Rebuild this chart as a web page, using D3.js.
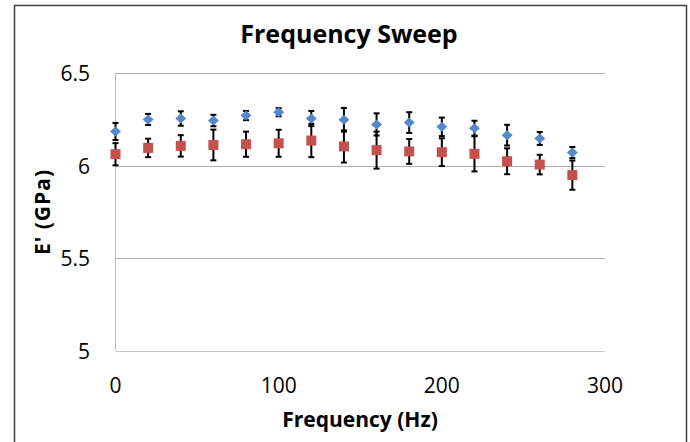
<!DOCTYPE html>
<html>
<head>
<meta charset="utf-8">
<script src="https://cdn.jsdelivr.net/npm/d3@7"></script>
<style>
  body { margin: 0; background: #fff; }
  text { font-family: "Open Sans", sans-serif; fill: #000; }
</style>
</head>
<body>
<div id="chart"></div>
<script>
// frequency sweep data
const freq = [0, 20, 40, 60, 80, 100, 120, 140, 160, 180, 200, 220, 240, 260, 280];
const blueE = [6.184, 6.249, 6.254, 6.243, 6.270, 6.288, 6.254, 6.247, 6.222, 6.232, 6.209, 6.202, 6.164, 6.146, 6.070];
const blueErr = [0.046, 0.030, 0.039, 0.031, 0.025, 0.022, 0.041, 0.064, 0.060, 0.056, 0.050, 0.040, 0.056, 0.035, 0.030];
const redE = [6.061, 6.095, 6.106, 6.111, 6.115, 6.120, 6.135, 6.103, 6.083, 6.076, 6.072, 6.063, 6.023, 6.005, 5.948];
const redErr = [0.060, 0.050, 0.058, 0.083, 0.068, 0.073, 0.090, 0.087, 0.100, 0.067, 0.075, 0.095, 0.070, 0.053, 0.079];
const xTicks = [0, 100, 200, 300];
const yTicks = [5, 5.5, 6, 6.5];

const width = 690;
const height = 442;
const blue = "#5589cc";
const red = "#c4514e";

const svg = d3.select("#chart")
  .append("svg")
  .attr("width", width)
  .attr("height", height);

// outer chart frame
svg.append("rect")
  .attr("x", 14.5).attr("y", 5.5)
  .attr("width", 672).attr("height", 460)
  .attr("fill", "#fff")
  .attr("stroke", "#404040")
  .attr("stroke-width", 1.5);

let xScale = d3.scaleLinear().domain([0, 300]).range([115.5, 605]);
let yScale = d3.scaleLinear().domain([5, 6.5]).range([350.5, 73]);

// gridlines
svg.append("g")
  .selectAll("line")
  .data(yTicks)
  .join("line")
    .attr("x1", xScale(0))
    .attr("x2", xScale(300))
    .attr("y1", d => Math.round(yScale(d)) + 0.5)
    .attr("y2", d => Math.round(yScale(d)) + 0.5)
    .attr("stroke", d => d == 5 ? "#c8c8c8" : "#b0b0b0")
    .attr("stroke-width", 1);

// left axis line
svg.append("line")
  .attr("x1", xScale(0)).attr("x2", xScale(0))
  .attr("y1", yScale(6.5)).attr("y2", yScale(5))
  .attr("stroke", "#b8b8b8");

// tick labels
svg.append("g")
  .selectAll("text")
  .data(yTicks)
  .join("text")
    .attr("x", 90)
    .attr("y", d => yScale(d) + 8)
    .attr("text-anchor", "end")
    .attr("font-size", 21)
    .text(d => d);

svg.append("g")
  .selectAll("text")
  .data(xTicks)
  .join("text")
    .attr("x", d => xScale(d))
    .attr("y", 393)
    .attr("text-anchor", "middle")
    .attr("font-size", 21)
    .text(d => d);

// titles
svg.append("text")
  .attr("x", 349).attr("y", 43)
  .attr("text-anchor", "middle")
  .attr("font-size", 25)
  .attr("font-weight", "bold")
  .text("Frequency Sweep");

svg.append("text")
  .attr("x", 360).attr("y", 427)
  .attr("text-anchor", "middle")
  .attr("font-size", 21)
  .attr("font-weight", "bold")
  .text("Frequency (Hz)");

svg.append("text")
  .attr("transform", "translate(50,212) rotate(-90)")
  .attr("text-anchor", "middle")
  .attr("font-size", 21)
  .attr("font-weight", "bold")
  .attr("letter-spacing", 1)
  .text("E' (GPa)");

// error bars first, markers on top
function errorBars(vals, errs) {
  let g = svg.append("g").attr("stroke", "#000").attr("stroke-width", 2);
  freq.forEach(function(f, i) {
    let x = xScale(f);
    let top = yScale(vals[i] + errs[i]);
    let bot = yScale(vals[i] - errs[i]);
    g.append("line").attr("x1", x).attr("x2", x).attr("y1", top).attr("y2", bot);
    g.append("line").attr("x1", x - 3).attr("x2", x + 3).attr("y1", top).attr("y2", top);
    g.append("line").attr("x1", x - 3).attr("x2", x + 3).attr("y1", bot).attr("y2", bot);
  });
}
errorBars(blueE, blueErr);
errorBars(redE, redErr);

svg.append("g")
  .selectAll("path")
  .data(freq)
  .join("path")
    .attr("d", function(d, i) {
      let x = xScale(d), y = yScale(blueE[i]);
      return "M" + (x - 5.5) + "," + y + "L" + x + "," + (y - 5) + "L" + (x + 5.5) + "," + y + "L" + x + "," + (y + 5) + "Z";
    })
    .attr("fill", blue);

svg.append("g")
  .selectAll("rect")
  .data(freq)
  .join("rect")
    .attr("x", d => xScale(d) - 5)
    .attr("y", (d, i) => yScale(redE[i]) - 5)
    .attr("width", 10)
    .attr("height", 10)
    .attr("fill", red);
</script>
</body>
</html>
